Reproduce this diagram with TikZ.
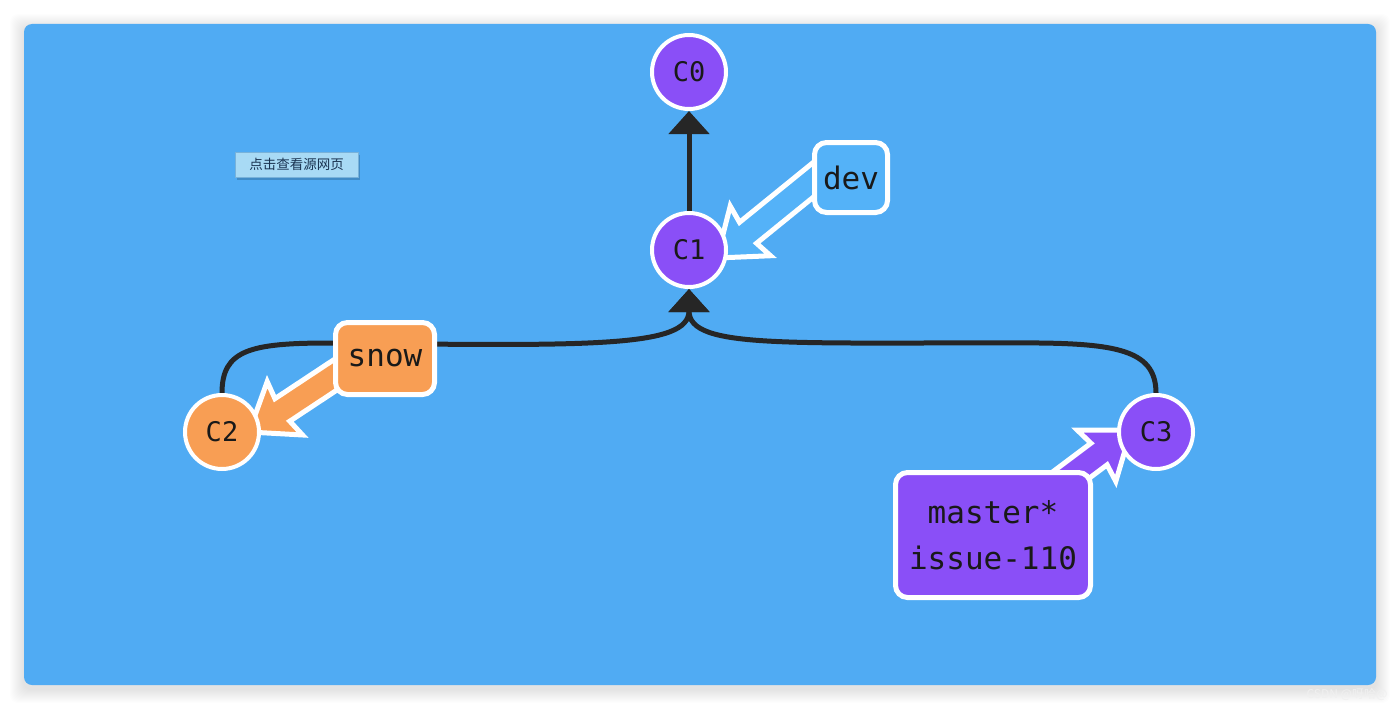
\documentclass[tikz,border=0pt]{standalone}
\usepackage{fontspec}
\usetikzlibrary{arrows.meta,calc}
\newfontfamily\monof{DejaVu Sans Mono}
\newfontfamily\cjk{Noto Sans CJK SC}
\definecolor{bgblue}{RGB}{80,171,243}
\definecolor{lblblue}{RGB}{84,178,248}
\definecolor{cpurple}{RGB}{138,79,247}
\definecolor{corange}{RGB}{248,158,84}
\definecolor{linedark}{RGB}{38,38,38}
\definecolor{btnfill}{RGB}{168,218,245}
\definecolor{btnedge}{RGB}{120,178,218}
\definecolor{btntext}{RGB}{25,50,80}
\pgfdeclarelayer{backpanel}
\pgfdeclarelayer{lines}
\pgfsetlayers{backpanel,lines,main}
\tikzset{
  commit/.style={circle, draw=white, line width=4pt, minimum size=74pt, inner sep=0pt,
    text=black!90, font=\monof\fontsize{27}{27}\selectfont},
  lbl/.style={rounded corners=12pt, draw=white, line width=5pt, inner sep=0pt,
    text=black!90, font=\monof\fontsize{31}{46}\selectfont, align=center},
  parentline/.style={draw=linedark, line width=5pt, -{Triangle[width=40pt,length=23pt]}},
  fatarr/.style={draw=white, line width=5pt, line join=miter},
}
% #1 tail, #2 tip, #3 fill colour
\newcommand\fatarrow[3]{%
  \filldraw[fatarr, fill=#3]
    (#2)
    -- ($(#2)!43pt!(#1)!32pt!90:(#2)$)
    -- ($(#2)!40pt!(#1)!13.5pt!90:(#2)$)
    -- ($(#1)!13.5pt!90:(#2)$)
    -- ($(#1)!13.5pt!-90:(#2)$)
    -- ($(#2)!40pt!(#1)!13.5pt!-90:(#2)$)
    -- ($(#2)!43pt!(#1)!32pt!-90:(#2)$)
    -- cycle;%
}
\begin{document}
\begin{tikzpicture}[x=1pt,y=-1pt]
\useasboundingbox (0,0) rectangle (1400,709);
\begin{pgfonlayer}{backpanel}
  \fill[white] (0,0) rectangle (1400,709);
  \foreach \i in {1,...,14}
    \fill[black, opacity=0.007, rounded corners=8pt] (24-\i,24-\i+4) rectangle (1376+\i,685+\i+4);
  \fill[bgblue, rounded corners=8pt] (24,24) rectangle (1376,685);
  \node[text=gray!12, font=\cjk\fontsize{12}{12}\selectfont, anchor=west] (wm) at (1303,695) {CSDN @呀哈@};
  \fill[black, opacity=0.18] (237,155) rectangle (360,180);
\end{pgfonlayer}

% button
\node[draw=btnedge, fill=btnfill, line width=0.8pt, minimum width=123pt, minimum height=25pt,
  inner sep=0pt, text=btntext, font=\cjk\fontsize{13.5}{14}\selectfont] (btn) at (296.5,164.5) {点击查看源网页};

% commits
\node[commit, fill=cpurple] (C0) at (689,72) {C0};
\node[commit, fill=cpurple] (C1) at (689,250) {C1};
\node[commit, fill=corange] (C2) at (222,432) {C2};
\node[commit, fill=cpurple] (C3) at (1156,432) {C3};

% labels
\node[lbl, fill=lblblue, minimum width=73pt, minimum height=70pt] (dev) at (851,177.5) {dev};
\node[lbl, fill=corange, minimum width=99pt, minimum height=72pt] (snow) at (385,358.5) {snow};
\node[lbl, fill=cpurple, minimum width=195pt, minimum height=125pt] (master) at (993,535) {master*\\issue-110};

% arrow end points
\coordinate (devtail) at (834,163);
\coordinate (devtip) at (717,258);
\coordinate (snowtail) at (373,350);
\coordinate (snowtip) at (249,432);
\coordinate (mastertail) at (1011,520);
\coordinate (mastertip) at (1131,430);

\begin{pgfonlayer}{lines}
  \draw[parentline] (C1) -- (C0);
  \draw[parentline] (C2.north) .. controls (222,350) and (250,343) .. (330,343)
    .. controls (590,346) and (689,348) .. (C1.south);
  \draw[parentline] (C3.north) .. controls (1156,352) and (1120,344) .. (1040,343)
    .. controls (790,342) and (689,350) .. (C1.south);
  \fatarrow{devtail}{devtip}{lblblue}
  \fatarrow{snowtail}{snowtip}{corange}
  \fatarrow{mastertail}{mastertip}{cpurple}
\end{pgfonlayer}
\end{tikzpicture}
\end{document}
